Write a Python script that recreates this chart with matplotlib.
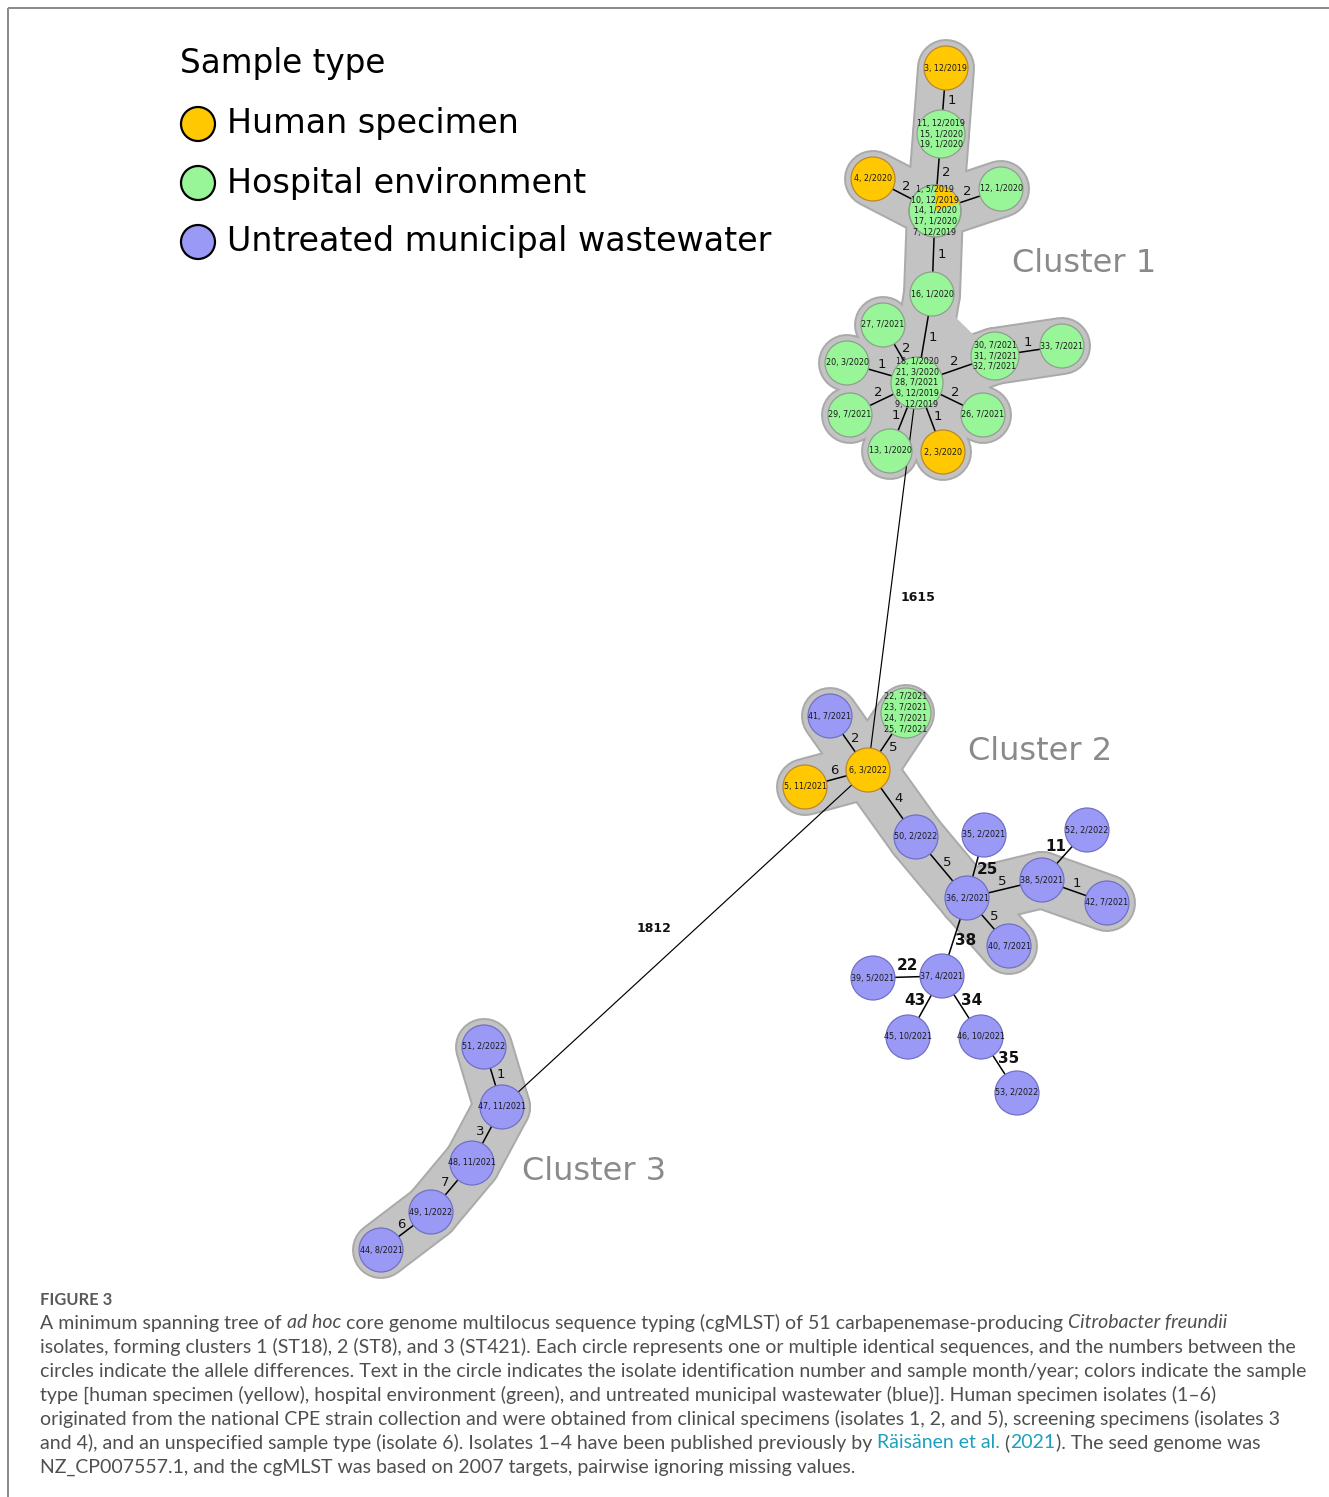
import matplotlib
matplotlib.use("Agg")
import matplotlib.pyplot as plt
from matplotlib.patches import Circle, Wedge, Polygon
import numpy as np

W, H = 1329, 1497
DPI = 100
PT = 72.0 / DPI  # pixel -> point

# ---- nodes (isolates) ----
node_ids = ['3', '11', '4', '1', '12', '16', '27', '18', '20', '30', '33', '29', '26', '13', '2',
            '41', '22', '6', '5', '50', '35', '36', '38', '52', '42', '40', '39', '37', '45', '46', '53',
            '51', '47', '48', '49', '44']
node_x = [946, 941, 873, 935, 1001, 932, 883, 917, 847, 995, 1062, 850, 983, 890, 943,
          830, 906, 868, 805, 916, 984, 967, 1042, 1087, 1107, 1009, 873, 942, 908, 981, 1017,
          484, 502, 472, 431, 381]
node_y = [68, 134, 179, 211, 189, 294, 325, 383, 363, 356, 346, 415, 415, 451, 452,
          716, 713, 770, 787, 837, 835, 898, 880, 830, 903, 946, 978, 976, 1037, 1037, 1093,
          1047, 1107, 1163, 1212, 1250]
node_type = ['H', 'E', 'H', 'HE', 'E', 'E', 'E', 'E', 'E', 'E', 'E', 'E', 'E', 'E', 'H',
             'W', 'E', 'H', 'H', 'W', 'W', 'W', 'W', 'W', 'W', 'W', 'W', 'W', 'W', 'W', 'W',
             'W', 'W', 'W', 'W', 'W']
node_text = [
    "3, 12/2019",
    "11, 12/2019\n15, 1/2020\n19, 1/2020",
    "4, 2/2020",
    "1, 5/2019\n10, 12/2019\n14, 1/2020\n17, 1/2020\n7, 12/2019",
    "12, 1/2020",
    "16, 1/2020",
    "27, 7/2021",
    "18, 1/2020\n21, 3/2020\n28, 7/2021\n8, 12/2019\n9, 12/2019",
    "20, 3/2020",
    "30, 7/2021\n31, 7/2021\n32, 7/2021",
    "33, 7/2021",
    "29, 7/2021",
    "26, 7/2021",
    "13, 1/2020",
    "2, 3/2020",
    "41, 7/2021",
    "22, 7/2021\n23, 7/2021\n24, 7/2021\n25, 7/2021",
    "6, 3/2022",
    "5, 11/2021",
    "50, 2/2022",
    "35, 2/2021",
    "36, 2/2021",
    "38, 5/2021",
    "52, 2/2022",
    "42, 7/2021",
    "40, 7/2021",
    "39, 5/2021",
    "37, 4/2021",
    "45, 10/2021",
    "46, 10/2021",
    "53, 2/2022",
    "51, 2/2022",
    "47, 11/2021",
    "48, 11/2021",
    "49, 1/2022",
    "44, 8/2021",
]

# ---- edges (allele differences) ----
edge_src = ['3', '11', '4', '12', '1', '16', '27', '20', '30', '30', '29', '26', '13', '2',
            '18',
            '41', '22', '5', '6', '50', '35', '36', '38', '38', '36', '36', '37', '37', '37', '46',
            '6',
            '51', '47', '48', '49']
edge_dst = ['11', '1', '1', '1', '16', '18', '18', '18', '18', '33', '18', '18', '18', '18',
            '6',
            '6', '6', '6', '50', '36', '36', '38', '52', '42', '40', '37', '39', '45', '46', '53',
            '47',
            '47', '48', '49', '44']
edge_diff = [1, 2, 2, 2, 1, 1, 2, 1, 2, 1, 2, 2, 1, 1,
             1615,
             2, 5, 6, 4, 5, 25, 5, 11, 1, 5, 38, 22, 43, 34, 35,
             1812,
             1, 3, 7, 6]
edge_side = [1, 1, 1, -1, 1, 1, 1, 1, -1, 1, 1, -1, 1, -1,
             1,
             1, 1, 1, 1, 1, 1, 1, 1, 1, 1, 1, -1, -1, 1, 1,
             -1,
             1, -1, -1, -1]

hub_fill = ['16', '30', '26', '2', '13', '29', '20', '27']

cluster_names = ['Cluster 1', 'Cluster 2', 'Cluster 3']
cluster_x = [1084, 1040, 594]
cluster_y = [264, 752, 1172]

legend_title = "Sample type"
legend_labels = ["Human specimen", "Hospital environment", "Untreated municipal wastewater"]
legend_types = ['H', 'E', 'W']

caption_head = "FIGURE 3"
caption_lines = [
    [("A minimum spanning tree of ", "n"), ("ad hoc", "i"),
     (" core genome multilocus sequence typing (cgMLST) of 51 carbapenemase-producing ", "n"),
     ("Citrobacter freundii", "i")],
    [("isolates, forming clusters 1 (ST18), 2 (ST8), and 3 (ST421). Each circle represents one or "
      "multiple identical sequences, and the numbers between the", "n")],
    [("circles indicate the allele differences. Text in the circle indicates the isolate identification "
      "number and sample month/year; colors indicate the sample", "n")],
    [("type [human specimen (yellow), hospital environment (green), and untreated municipal wastewater "
      "(blue)]. Human specimen isolates (1\u20136)", "n")],
    [("originated from the national CPE strain collection and were obtained from clinical specimens "
      "(isolates 1, 2, and 5), screening specimens (isolates 3", "n")],
    [("and 4), and an unspecified sample type (isolate 6). Isolates 1\u20134 have been published "
      "previously by ", "n"), ("R\u00e4is\u00e4nen et al.", "l"), (" (", "n"), ("2021", "l"),
     ("). The seed genome was", "n")],
    [("NZ_CP007557.1, and the cgMLST was based on 2007 targets, pairwise ignoring missing values.", "n")],
]

face = {'H': '#FFC800', 'E': '#98F598', 'W': '#9A9AF6'}
edgec = {'H': '#B8862E', 'E': '#8E9E8E', 'W': '#6E6EC4'}

fig = plt.figure(figsize=(W / DPI, H / DPI), dpi=DPI)
ax = fig.add_axes([0, 0, 1, 1])
ax.set_xlim(0, W)
ax.set_ylim(H, 0)
ax.axis('off')

pos = {n: np.array([x, y], float) for n, x, y in zip(node_ids, node_x, node_y)}
rad = {n: 22 + t.count('\n') for n, t in zip(node_ids, node_text)}

# frame
ax.plot([8, W], [7.5, 7.5], color='#8c8c8c', lw=2 * PT, solid_capstyle='butt')
ax.plot([8, 8], [7.5, H], color='#8c8c8c', lw=2 * PT, solid_capstyle='butt')

# gray cluster halos
halo_w = 54
for a, b, d in zip(edge_src, edge_dst, edge_diff):
    if d <= 10:
        xs = [pos[a][0], pos[b][0]]
        ys = [pos[a][1], pos[b][1]]
        ax.plot(xs, ys, color='#aaaaaa', lw=(halo_w + 4) * PT, solid_capstyle='round', zorder=1)
        ax.plot(xs, ys, color='#c3c3c3', lw=halo_w * PT, solid_capstyle='round', zorder=2)
hub_pts = [pos[n] for n in hub_fill]
ax.add_patch(Polygon(hub_pts, closed=True, fc='#c3c3c3', ec='none', zorder=2))

# edges and their labels
for a, b, d, s in zip(edge_src, edge_dst, edge_diff, edge_side):
    pa, pb = pos[a], pos[b]
    ax.plot([pa[0], pb[0]], [pa[1], pb[1]], color='black',
            lw=(0.85 if d > 1000 else 1.1), zorder=3)
    v = pb - pa
    L = np.hypot(*v)
    u = v / L
    nrm = np.array([u[1], -u[0]]) * s
    mid = pa + u * (rad[a] + (L - rad[a] - rad[b]) / 2)
    if d > 1000:
        off, fs, fw = 28, 9, 'bold'
        mid = mid + u * 16
    elif d > 10:
        off, fs, fw = 12, 11, 'bold'
    else:
        off, fs, fw = 8, 9.5, 'normal'
    lp = mid + nrm * off
    ax.text(lp[0], lp[1], str(d), fontsize=fs, fontweight=fw, color='#111111',
            ha='center', va='center', zorder=6)

# nodes
for n, t, typ in zip(node_ids, node_text, node_type):
    x, y = pos[n]
    r = rad[n]
    if typ == 'HE':
        ax.add_patch(Circle((x, y), r, fc=face['E'], ec=edgec['E'], lw=1.2 * PT, zorder=4))
        ax.add_patch(Wedge((x, y), r, -90, -18, fc=face['H'], ec='none', zorder=4.5))
        ax.add_patch(Circle((x, y), r, fc='none', ec=edgec['E'], lw=1.2 * PT, zorder=4.6))
    else:
        ax.add_patch(Circle((x, y), r, fc=face[typ], ec=edgec[typ], lw=1.2 * PT, zorder=4))
    ax.text(x, y, t, fontsize=5.8, linespacing=1.28, color='#1a1a1a',
            ha='center', va='center', multialignment='center', zorder=7)

# cluster names
for name, x, y in zip(cluster_names, cluster_x, cluster_y):
    ax.text(x, y, name, fontsize=23, color='#8a8a8a', ha='center', va='center', zorder=7)

# legend
ax.text(180, 63, legend_title, fontsize=23.5, color='black', ha='left', va='center')
for i, (lab, typ) in enumerate(zip(legend_labels, legend_types)):
    y = 124 + i * 59
    ax.add_patch(Circle((198, y), 17, fc=face[typ], ec='black', lw=2.2 * PT, zorder=4))
    ax.text(227, y, lab, fontsize=24, color='black', ha='left', va='center')

# caption
renderer = fig.canvas.get_renderer()
cap_family = ['Lato', 'DejaVu Sans']
styles = {
    'n': dict(color='#4f4f4f', fontstyle='normal'),
    'i': dict(color='#4f4f4f', fontstyle='italic'),
    'l': dict(color='#1f9fbf', fontstyle='normal'),
}


def text_width(s, fs, style):
    t1 = ax.text(0, 0, s + '|', fontsize=fs, family=cap_family, **style)
    t2 = ax.text(0, 0, '|', fontsize=fs, family=cap_family, **style)
    w = t1.get_window_extent(renderer).width - t2.get_window_extent(renderer).width
    t1.remove()
    t2.remove()
    return w


# scale caption font so the lines span roughly the same width as the original
ref_fs = 12.0
w0 = sum(text_width(s, ref_fs, styles[k]) for s, k in caption_lines[0])
cap_fs = ref_fs * 1182.0 / w0

ax.text(40, 1300, caption_head, fontsize=cap_fs * 0.85, family=cap_family, fontweight='bold',
        color='#5a5a5a', ha='left', va='center')
for i, parts in enumerate(caption_lines):
    x = 40.0
    y = 1323 + i * 24
    for s, k in parts:
        ax.text(x, y, s, fontsize=cap_fs, family=cap_family, ha='left', va='center', **styles[k])
        x += text_width(s, cap_fs, styles[k])

fig.savefig('out.png', dpi=DPI, facecolor='white')
